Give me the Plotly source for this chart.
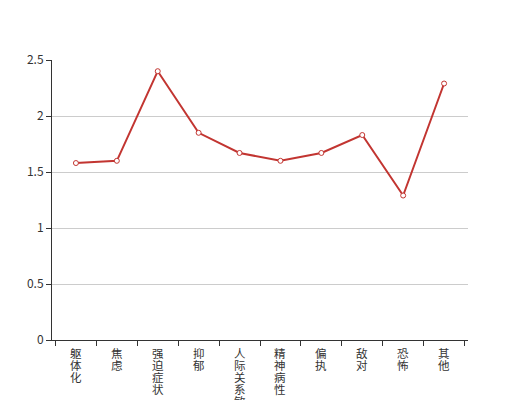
import plotly.graph_objects as go

categories = ["躯体化", "焦虑", "强迫症状", "抑郁", "人际关系敏感", "精神病性", "偏执", "敌对", "恐怖", "其他"]
values = [1.58, 1.60, 2.40, 1.85, 1.67, 1.60, 1.67, 1.83, 1.29, 2.29]
y_ticks = [0, 0.5, 1, 1.5, 2, 2.5]
y_tick_labels = ["0", "0.5", "1", "1.5", "2", "2.5"]

fig = go.Figure(go.Scatter(
    x=categories, y=values, mode="lines+markers",
    line=dict(color="#c23531", width=2),
    marker=dict(symbol="circle", size=5, color="white",
                line=dict(color="#c23531", width=1)),
    cliponaxis=False,
))

# vertical category labels, one character per line (12px line height)
for cat in categories:
    for i, ch in enumerate(cat):
        fig.add_annotation(
            x=cat, y=0, xref="x", yref="y", text=ch, showarrow=False,
            yanchor="middle", xanchor="center", yshift=-(13 + 12 * i),
            borderpad=0,
            font=dict(family="Noto Sans CJK SC, sans-serif", size=11.5, color="#333"),
        )

fig.update_layout(
    width=520, height=400,
    margin=dict(l=52, r=52, t=60, b=60),
    plot_bgcolor="white", paper_bgcolor="white",
    showlegend=False,
    font=dict(family="Noto Sans CJK SC, sans-serif", size=12, color="#333"),
)
fig.update_xaxes(
    type="category", tickson="boundaries", ticks="outside", ticklen=5,
    tickcolor="#333", showline=True, linecolor="#333", linewidth=1,
    showgrid=False, showticklabels=False, automargin=False,
)
fig.update_yaxes(
    range=[0, 2.5], tickvals=y_ticks, ticktext=y_tick_labels,
    ticks="outside", ticklen=5, tickcolor="#333",
    showline=True, linecolor="#333", linewidth=1,
    showgrid=True, gridcolor="#ccc", zeroline=False,
    tickfont=dict(size=12, color="#333"), automargin=False,
)

fig.write_html("out.html", config={"displayModeBar": False},
               post_script="document.body.style.margin='0';")
